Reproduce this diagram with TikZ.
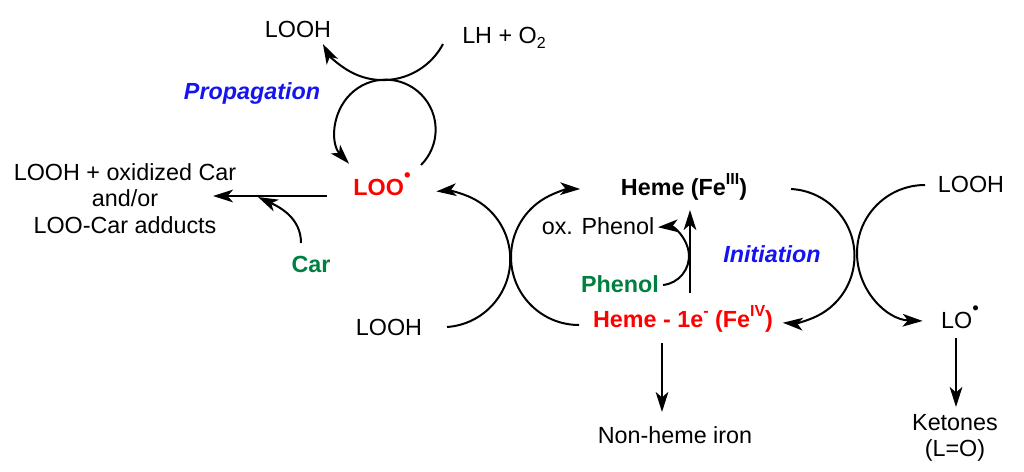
\documentclass[tikz,border=0pt]{standalone}
\usepackage{fontspec}
\setmainfont{Liberation Sans}
\usetikzlibrary{arrows.meta}
\definecolor{cred}{RGB}{255,0,0}
\definecolor{cblue}{RGB}{20,20,240}
\definecolor{cgreen}{RGB}{0,128,64}
\newcommand\raddot{\raisebox{10pt}{\fontsize{14}{14}\selectfont\textbullet}}
\newcommand\mysub[1]{\raisebox{-4pt}{\fontsize{12}{12}\selectfont #1}}
\newcommand\mysup[1]{\raisebox{8pt}{\fontsize{12}{12}\selectfont #1}}
\begin{document}
\begin{tikzpicture}[x=0.75pt,y=0.75pt,
  lbl/.style={font=\fontsize{17.5}{20}\selectfont, inner sep=0pt, anchor=base},
  blk/.style={font=\fontsize{17.5}{20}\selectfont, inner sep=0pt, anchor=north, align=center},
  conn/.style={line width=1.5pt, -{Stealth[length=15pt,width=9.5pt,inset=4pt]}}]
\useasboundingbox (0,0) rectangle (1024,-471);
% texts
\node[lbl] (looh1) at (298,-37) {LOOH};
\node[lbl] (lho2) at (504,-43) {LH + O\mysub{2}};
\node[lbl, text=cblue] (prop) at (252,-99) {\bfseries\itshape Propagation};
\node[lbl, text=cred] (loo) at (382,-195) {\bfseries LOO\raddot};
\node[blk] (prod) at (125,-163) {LOOH + oxidized Car\\and/or\\LOO-Car adducts};
\node[lbl, text=cgreen] (car) at (311,-272) {\bfseries Car};
\node[lbl] (looh2) at (389,-335) {LOOH};
\node[lbl] (heme) at (684,-195) {\bfseries Heme (Fe\mysup{III})};
\node[lbl] (oxph) at (598,-234) {ox. Phenol};
\node[lbl, text=cgreen] (phen) at (620,-292) {\bfseries Phenol};
\node[lbl, text=cred] (heme1) at (683,-327) {\bfseries Heme - 1e\mysup{-} (Fe\mysup{IV})};
\node[lbl, text=cblue] (init) at (772,-262) {\bfseries\itshape Initiation};
\node[lbl] (looh3) at (971,-192) {LOOH};
\node[lbl] (lo) at (960,-328) {LO\raddot};
\node[blk, font=\fontsize{17.5}{20}\selectfont] (ket) at (955,-414) {Ketones\\(L=O)};
\node[lbl] (nhi) at (675,-443) {Non-heme iron};
% connector end points
\coordinate (u0) at (443,-44);
\coordinate (p0) at (421,-165);
\coordinate (a0) at (447,-327);
\coordinate (b0) at (579,-325);
\coordinate (c0) at (791,-189);
\coordinate (d0) at (925,-185);
\coordinate (f0) at (663,-285);
\coordinate (l1) at (327,-196);
\coordinate (l2) at (213,-196);
\coordinate (k1) at (301,-243);
\coordinate (k2) at (258,-197);
\coordinate (v1) at (690,-293);
\coordinate (v2) at (690,-210);
\coordinate (h1) at (662,-343);
\coordinate (h2) at (662,-412);
\coordinate (o1) at (956,-338);
\coordinate (o2) at (956,-407);
% propagation cycle
\draw[conn] (u0) arc[start angle=-28, end angle=-152, radius=68];
\draw[conn] (p0) arc[start angle=-45, end angle=223, radius=50];
% carotenoid branch
\draw[conn] (l1) -- (l2);
\draw[conn] (k1) to[out=90, in=-25] (k2);
% middle crossing
\draw[conn] (a0) arc[start angle=-86, end angle=95, radius=68];
\draw[conn] (b0) arc[start angle=270, end angle=89, radius=68];
% right crossing
\draw[conn] (c0) arc[start angle=87, end angle=-94, radius=67];
\draw[conn] (d0) arc[start angle=90, end angle=268, radius=68];
% phenol
\draw[conn] (f0) arc[start angle=-84, end angle=94, radius=29];
\draw[conn] (v1) -- (v2);
% downward
\draw[conn] (h1) -- (h2);
\draw[conn] (o1) -- (o2);
\end{tikzpicture}
\end{document}
